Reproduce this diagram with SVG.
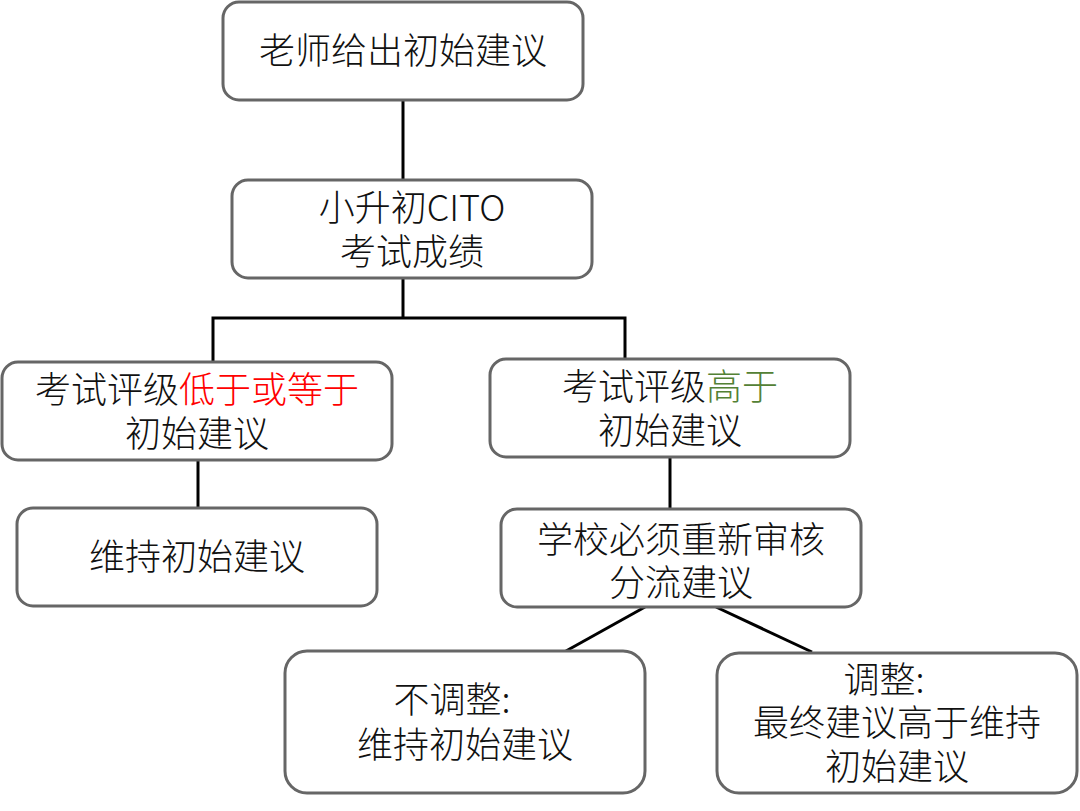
<svg xmlns="http://www.w3.org/2000/svg" width="1080" height="811" viewBox="0 0 1080 811">
<style>
.box{fill:#fff;stroke:#666;stroke-width:3}
.t{font-family:"Noto Sans CJK SC","Liberation Sans",sans-serif;font-size:36px;font-weight:300;fill:#111;text-anchor:middle}
.c{stroke:#000;stroke-width:3;fill:none}
.red{fill:#ff0000}
.green{fill:#538135}
</style>
<rect width="1080" height="811" fill="#fff"/>
<g id="connectors">
<line class="c" x1="403" y1="100" x2="403" y2="180"/>
<polyline class="c" points="213,363 213,318 625,318 625,360"/>
<line class="c" x1="403" y1="278" x2="403" y2="318"/>
<line class="c" x1="198" y1="460" x2="198" y2="508"/>
<line class="c" x1="670" y1="457" x2="670" y2="509"/>
<line class="c" x1="645" y1="607" x2="566" y2="651"/>
<line class="c" x1="716" y1="607" x2="812" y2="652"/>
</g>
<g id="n1"><rect class="box" x="223" y="2" width="360" height="98" rx="16"/><text class="t" x="403" y="64">老师给出初始建议</text></g>
<g id="n2"><rect class="box" x="232" y="180" width="360" height="98" rx="16"/><text class="t" x="412" y="221">小升初CITO</text><text class="t" x="412" y="265">考试成绩</text></g>
<g id="n3"><rect class="box" x="2" y="362" width="390" height="98" rx="16"/><text class="t" x="197" y="403">考试评级<tspan class="red">低于或等于</tspan></text><text class="t" x="197" y="447">初始建议</text></g>
<g id="n4"><rect class="box" x="490" y="359" width="360" height="98" rx="16"/><text class="t" x="670" y="400">考试评级<tspan class="green">高于</tspan></text><text class="t" x="670" y="444">初始建议</text></g>
<g id="n5"><rect class="box" x="17" y="508" width="360" height="98" rx="16"/><text class="t" x="197" y="570">维持初始建议</text></g>
<g id="n6"><rect class="box" x="501" y="509" width="360" height="98" rx="16"/><text class="t" x="681" y="553">学校必须重新审核</text><text class="t" x="681" y="596">分流建议</text></g>
<g id="n7"><rect class="box" x="285" y="651" width="360" height="142" rx="22"/><text class="t" x="452" y="713">不调整:</text><text class="t" x="465" y="758">维持初始建议</text></g>
<g id="n8"><rect class="box" x="717" y="653" width="360" height="140" rx="22"/><text class="t" x="884" y="693">调整:</text><text class="t" x="897" y="736">最终建议高于维持</text><text class="t" x="897" y="780">初始建议</text></g>
</svg>
